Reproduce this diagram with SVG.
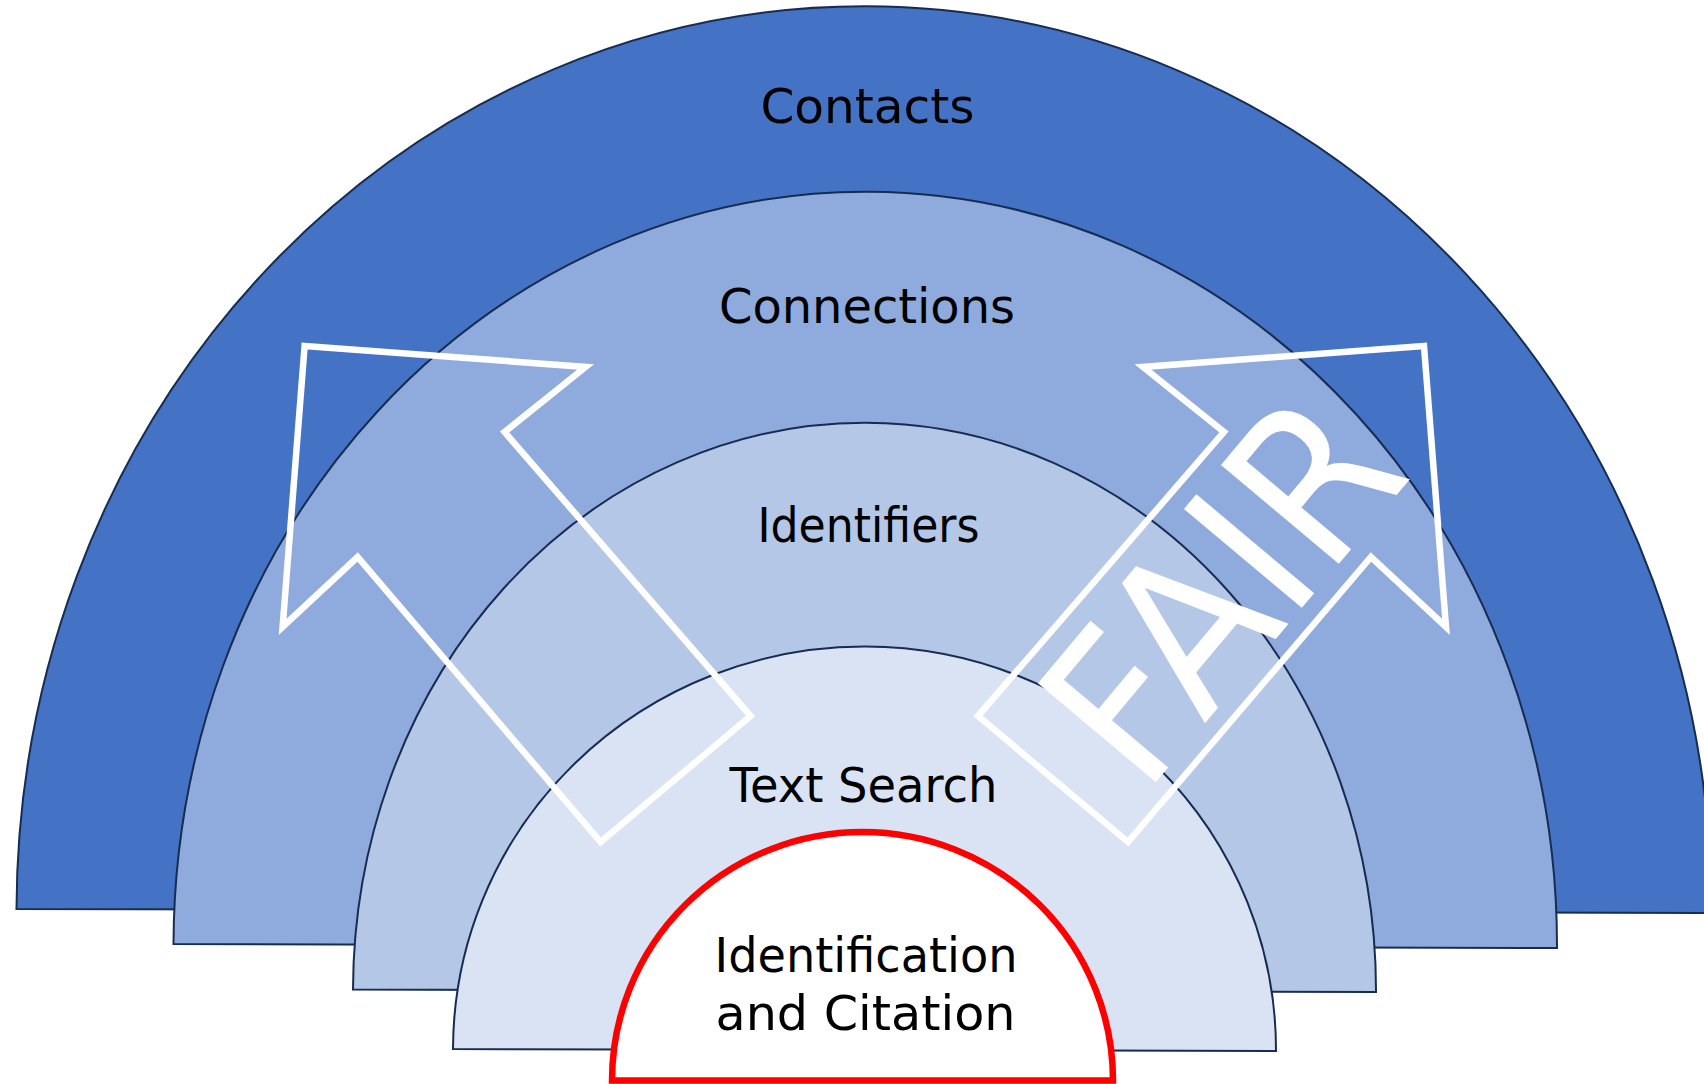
<svg xmlns="http://www.w3.org/2000/svg" width="1704" height="1084" viewBox="0 0 1704 1084">
  <style>
    .band { stroke: #172C51; stroke-width: 2; stroke-linejoin: miter; }
    .label { font-family: "DejaVu Sans", "Liberation Sans", sans-serif; font-size: 48px; fill: #000000; text-anchor: middle; }
    .arrow { fill: none; stroke: #FFFFFF; stroke-width: 6.5; stroke-linejoin: miter; stroke-miterlimit: 10; }
    .fair { font-family: "DejaVu Sans", "Liberation Sans", sans-serif; font-size: 211px; fill: #FFFFFF; text-anchor: middle; }
  </style>
  <rect x="0" y="0" width="1704" height="1084" fill="#FFFFFF"/>

  <g id="contacts">
    <path class="band" fill="#4472C4" d="M16.5,909 A847.5,905 0.135 0 1 1711.5,913 Z"/>
  </g>
  <g id="connections">
    <path class="band" fill="#8FAADC" d="M173.5,944 A691.75,754.3 0.166 0 1 1557,948 Z"/>
  </g>
  <g id="identifiers">
    <path class="band" fill="#B4C7E7" d="M353,989.5 A511.5,568 0.14 0 1 1376,992 Z"/>
  </g>
  <g id="text-search">
    <path class="band" fill="#DAE3F3" d="M453,1049 A411.5,403.4 0.139 0 1 1276,1051 Z"/>
  </g>
  <g id="identification-citation">
    <path fill="#FFFFFF" stroke="#FF0000" stroke-width="6.5" d="M612,1080.5 A250.5,248.5 0 0 1 1113,1080.5 Z"/>
  </g>

  <g id="labels">
    <text class="label" x="867.5" y="123" textLength="214" lengthAdjust="spacingAndGlyphs">Contacts</text>
    <text class="label" x="867" y="323" textLength="296" lengthAdjust="spacingAndGlyphs">Connections</text>
    <text class="label" x="868.5" y="542" textLength="222" lengthAdjust="spacingAndGlyphs">Identifiers</text>
    <text class="label" x="863.5" y="802" textLength="268" lengthAdjust="spacingAndGlyphs">Text Search</text>
    <text class="label" x="866" y="972" textLength="303" lengthAdjust="spacingAndGlyphs">Identification</text>
    <text class="label" x="865.5" y="1030" textLength="300" lengthAdjust="spacingAndGlyphs">and Citation</text>
  </g>

  <g id="arrows">
    <polygon class="arrow" points="304.6,346 585.6,367 504.6,432 750.6,716 600.6,842 357.6,557 282.6,627"/>
    <polygon class="arrow" points="1424,346 1143,367 1224,432 978,716 1128,842 1371,557 1446,627"/>
  </g>

  <g id="fair">
    <text class="fair" x="1278.4" y="635.8" textLength="420" lengthAdjust="spacingAndGlyphs" transform="rotate(-50 1278.4 635.8)">FAIR</text>
  </g>
</svg>
